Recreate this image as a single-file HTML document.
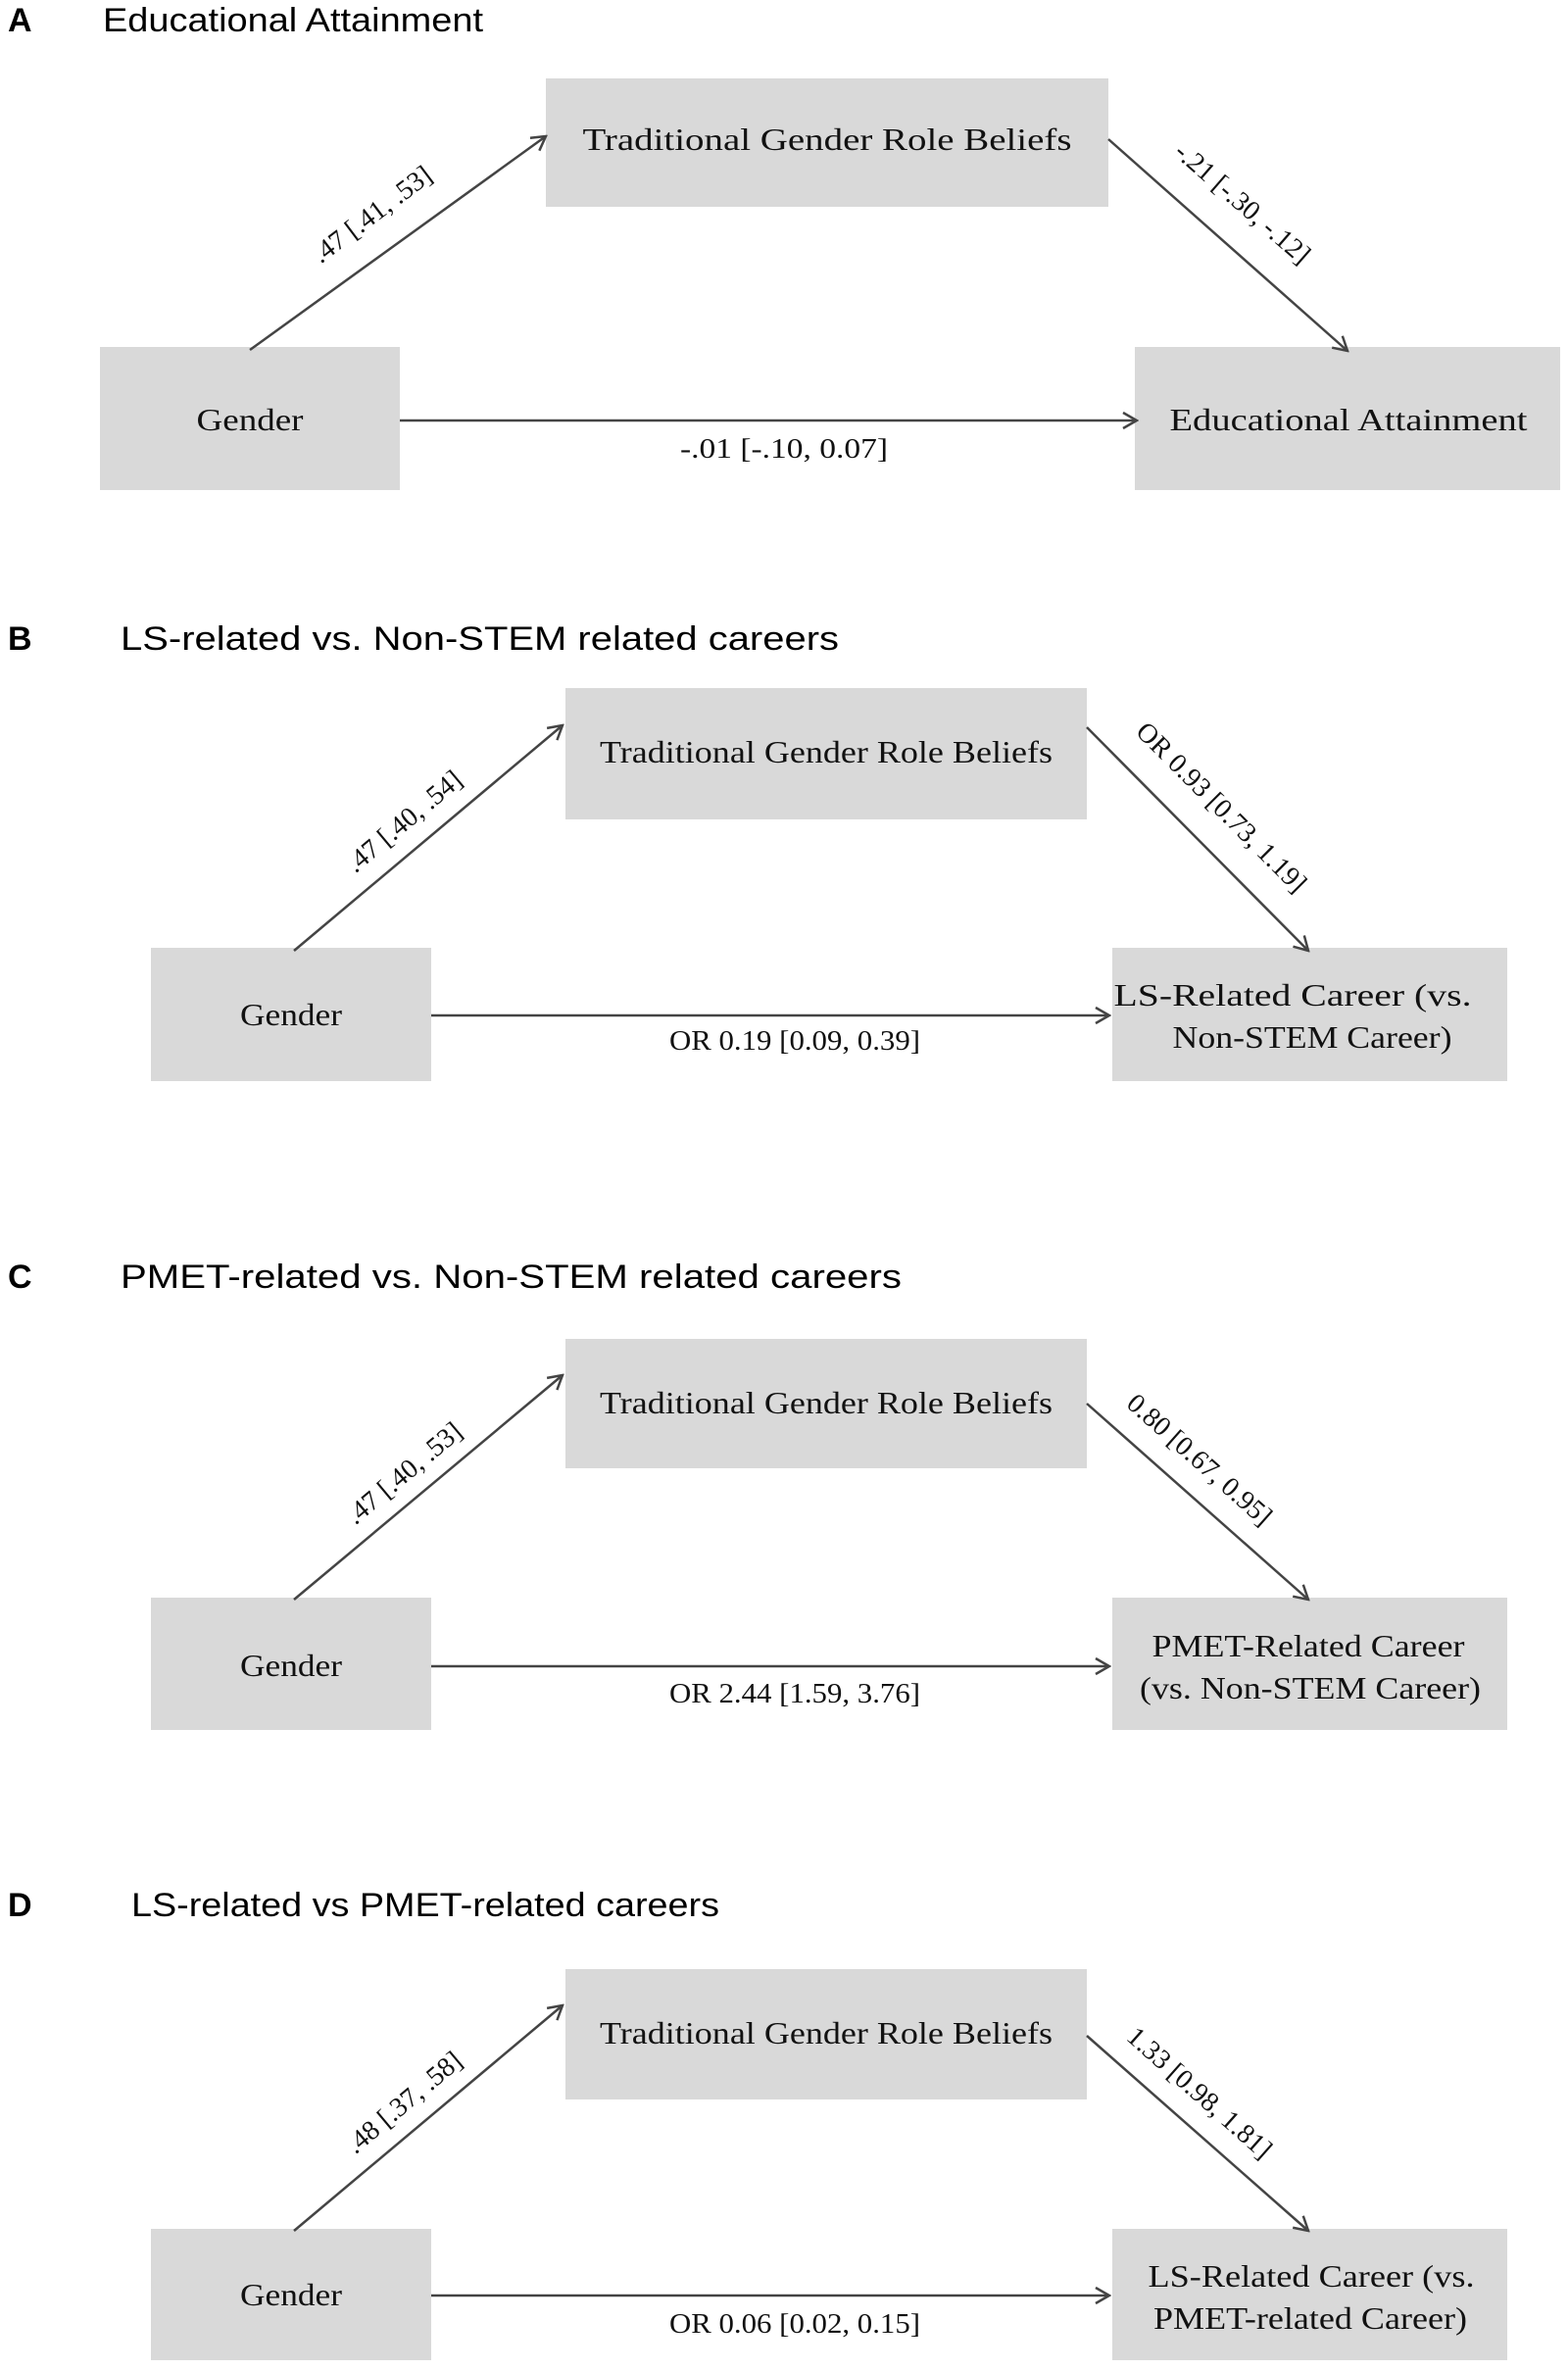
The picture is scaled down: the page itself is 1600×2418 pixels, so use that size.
<!DOCTYPE html>
<html><head><meta charset="utf-8"><style>html,body{margin:0;padding:0;background:#fff}svg{display:block}</style></head>
<body>
<svg width="1600" height="2418" viewBox="0 0 1600 2418" xmlns="http://www.w3.org/2000/svg">
<defs>
<marker id="ar" viewBox="0 0 20 20" refX="18" refY="10" markerWidth="20" markerHeight="20" markerUnits="userSpaceOnUse" orient="auto">
<path d="M4,2 L18,10 L4,18" fill="none" stroke="#444" stroke-width="2.5"/>
</marker>
</defs>
<g font-family="Liberation Sans, Arial, sans-serif" font-size="34" fill="#000">
<text x="8" y="32" font-weight="bold">A</text>
<text x="105" y="32" textLength="388" lengthAdjust="spacingAndGlyphs">Educational Attainment</text>
<text x="8" y="663" font-weight="bold">B</text>
<text x="123" y="663" textLength="733" lengthAdjust="spacingAndGlyphs">LS-related vs. Non-STEM related careers</text>
<text x="8" y="1314" font-weight="bold">C</text>
<text x="123" y="1314" textLength="797" lengthAdjust="spacingAndGlyphs">PMET-related vs. Non-STEM related careers</text>
<text x="8" y="1955" font-weight="bold">D</text>
<text x="134" y="1955" textLength="600" lengthAdjust="spacingAndGlyphs">LS-related vs PMET-related careers</text>
</g>
<g fill="#d9d9d9">
<rect x="557" y="80" width="574" height="131"/>
<rect x="102" y="354" width="306" height="146"/>
<rect x="1158" y="354" width="434" height="146"/>
<rect x="577" y="702" width="532" height="134"/>
<rect x="154" y="967" width="286" height="136"/>
<rect x="1135" y="967" width="403" height="136"/>
<rect x="577" y="1366" width="532" height="132"/>
<rect x="154" y="1630" width="286" height="135"/>
<rect x="1135" y="1630" width="403" height="135"/>
<rect x="577" y="2009" width="532" height="133"/>
<rect x="154" y="2274" width="286" height="134"/>
<rect x="1135" y="2274" width="403" height="134"/>
</g>
<g stroke="#444" stroke-width="2.5" fill="none" marker-end="url(#ar)">
<line x1="255" y1="357" x2="557" y2="139"/>
<line x1="1131" y1="142" x2="1375" y2="358"/>
<line x1="408" y1="429" x2="1160" y2="429"/>
<line x1="300" y1="970" x2="574" y2="740"/>
<line x1="1109" y1="742" x2="1335" y2="970"/>
<line x1="440" y1="1036" x2="1132" y2="1036"/>
<line x1="300" y1="1632" x2="574" y2="1403"/>
<line x1="1109" y1="1432" x2="1335" y2="1632"/>
<line x1="440" y1="1700" x2="1132" y2="1700"/>
<line x1="300" y1="2276" x2="574" y2="2046"/>
<line x1="1109" y1="2077" x2="1335" y2="2276"/>
<line x1="440" y1="2342" x2="1132" y2="2342"/>
</g>
<g font-family="Liberation Serif, Times New Roman, serif" font-size="32" fill="#111" text-anchor="middle">
<text x="844" y="153" textLength="499" lengthAdjust="spacingAndGlyphs">Traditional  Gender Role Beliefs</text>
<text x="255" y="439" textLength="109" lengthAdjust="spacingAndGlyphs">Gender</text>
<text x="1376" y="439" textLength="365" lengthAdjust="spacingAndGlyphs">Educational  Attainment</text>
<text x="843" y="778" textLength="462" lengthAdjust="spacingAndGlyphs">Traditional  Gender Role Beliefs</text>
<text x="297" y="1046" textLength="104" lengthAdjust="spacingAndGlyphs">Gender</text>
<text x="1319" y="1026" textLength="365" lengthAdjust="spacingAndGlyphs">LS-Related Career (vs.</text>
<text x="1339" y="1069" textLength="285" lengthAdjust="spacingAndGlyphs">Non-STEM Career)</text>
<text x="843" y="1442" textLength="462" lengthAdjust="spacingAndGlyphs">Traditional  Gender Role Beliefs</text>
<text x="297" y="1710" textLength="104" lengthAdjust="spacingAndGlyphs">Gender</text>
<text x="1335" y="1690" textLength="319" lengthAdjust="spacingAndGlyphs">PMET-Related Career</text>
<text x="1337" y="1733" textLength="348" lengthAdjust="spacingAndGlyphs">(vs. Non-STEM Career)</text>
<text x="843" y="2085" textLength="462" lengthAdjust="spacingAndGlyphs">Traditional  Gender Role Beliefs</text>
<text x="297" y="2352" textLength="104" lengthAdjust="spacingAndGlyphs">Gender</text>
<text x="1338" y="2333" textLength="333" lengthAdjust="spacingAndGlyphs">LS-Related Career (vs.</text>
<text x="1337" y="2376" textLength="320" lengthAdjust="spacingAndGlyphs">PMET-related Career)</text>
</g>
<g font-family="Liberation Serif, Times New Roman, serif" font-size="28" fill="#111" text-anchor="middle">
<text x="800" y="467" textLength="212" lengthAdjust="spacingAndGlyphs">-.01 [-.10, 0.07]</text>
<text x="811" y="1071" textLength="256" lengthAdjust="spacingAndGlyphs">OR 0.19 [0.09, 0.39]</text>
<text x="811" y="1737" textLength="256" lengthAdjust="spacingAndGlyphs">OR 2.44 [1.59, 3.76]</text>
<text x="811" y="2380" textLength="256" lengthAdjust="spacingAndGlyphs">OR 0.06 [0.02, 0.15]</text>
<text transform="translate(385,226) rotate(-37)">.47 [.41, .53]</text>
<text transform="translate(1262,214) rotate(41)">-.21 [-.30, -.12]</text>
<text transform="translate(418,845) rotate(-40)">.47 [.40, .54]</text>
<text transform="translate(1240,830) rotate(45)">OR 0.93 [0.73, 1.19]</text>
<text transform="translate(418,1510) rotate(-40)">.47 [.40, .53]</text>
<text transform="translate(1218,1496) rotate(41.5)">0.80 [0.67, 0.95]</text>
<text transform="translate(418,2152) rotate(-40)">.48 [.37, .58]</text>
<text transform="translate(1218,2142) rotate(41.5)">1.33 [0.98, 1.81]</text>
</g>
</svg>
</body></html>
